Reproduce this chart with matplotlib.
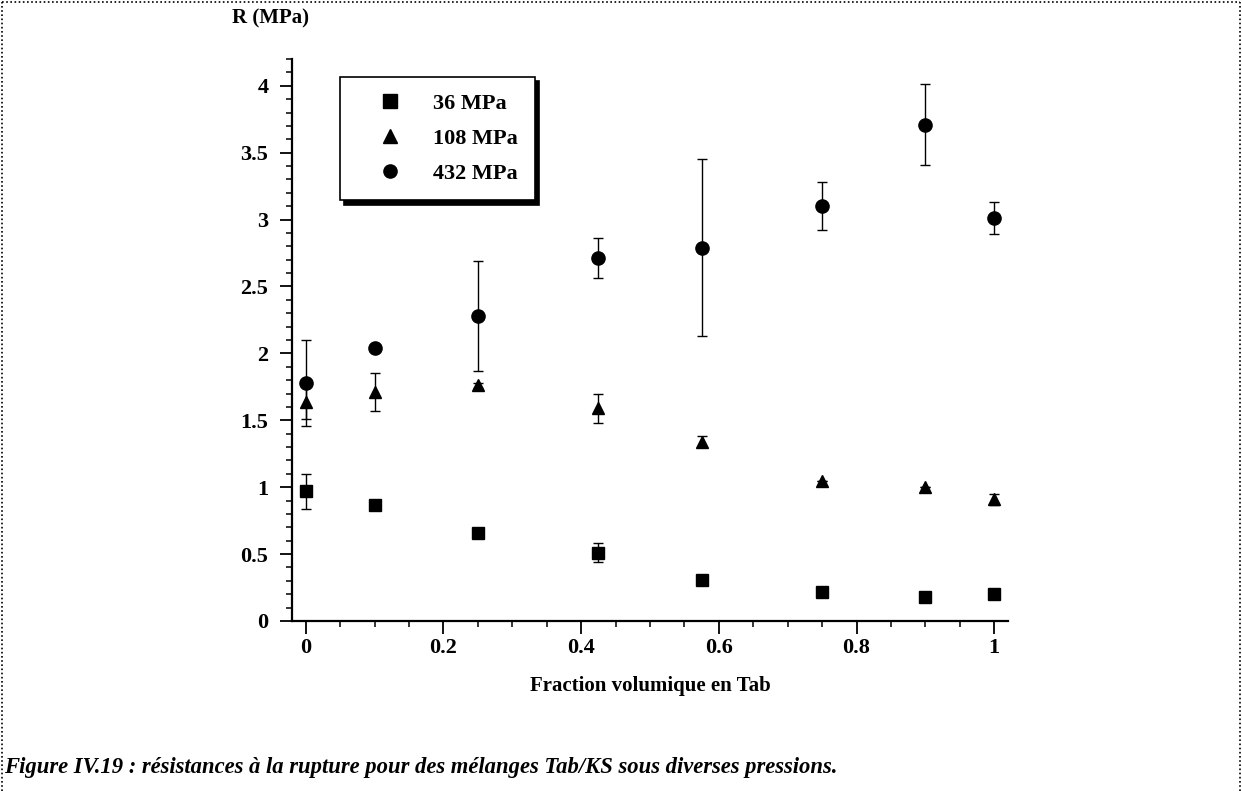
import matplotlib.pyplot as plt
from matplotlib.lines import Line2D
from matplotlib.ticker import MultipleLocator

# data
frac = [0, 0.1, 0.25, 0.425, 0.575, 0.75, 0.9, 1.0]
r36 = [0.97, 0.87, 0.66, 0.51, 0.31, 0.22, 0.18, 0.20]
e36 = [0.13, 0.0, 0.03, 0.07, 0.0, 0.0, 0.0, 0.0]
r108 = [1.64, 1.71, 1.76, 1.59, 1.34, 1.05, 1.00, 0.91]
e108 = [0.13, 0.14, 0.02, 0.11, 0.04, 0.0, 0.0, 0.04]
r432 = [1.78, 2.04, 2.28, 2.71, 2.79, 3.10, 3.71, 3.01]
e432 = [0.32, 0.0, 0.41, 0.15, 0.66, 0.18, 0.30, 0.12]
labels = ["36 MPa", "108 MPa", "432 MPa"]
markers = ['s', '^', 'o']

xticks = [0, 0.2, 0.4, 0.6, 0.8, 1]
xticklabels = ["0", "0.2", "0.4", "0.6", "0.8", "1"]
yticks = [0, 0.5, 1, 1.5, 2, 2.5, 3, 3.5, 4]
yticklabels = ["0", "0.5", "1", "1.5", "2", "2.5", "3", "3.5", "4"]

plt.rcParams['font.family'] = ['Liberation Serif', 'DejaVu Serif']
plt.rcParams['font.weight'] = 'bold'

fig = plt.figure(figsize=(12.42, 7.91), dpi=100)
ax = fig.add_axes([292/1242, 1-621/791, 716/1242, 562/791])

ekw = dict(ls='none', color='black', ecolor='black', elinewidth=1.0,
           capsize=3.6, capthick=1.0)
ax.errorbar(frac, r36, yerr=e36, marker='s', ms=9, **ekw)
ax.errorbar(frac, r108, yerr=e108, marker='^', ms=9, **ekw)
ax.errorbar(frac, r432, yerr=e432, marker='o', ms=9.5, **ekw)

ax.set_xlim(-0.02, 1.02)
ax.set_ylim(0, 4.2)
ax.set_xticks(xticks)
ax.set_xticklabels(xticklabels)
ax.set_yticks(yticks)
ax.set_yticklabels(yticklabels)
ax.xaxis.set_minor_locator(MultipleLocator(0.05))
ax.yaxis.set_minor_locator(MultipleLocator(0.1))
ax.tick_params(which='major', length=9, width=1.3, labelsize=16, direction='out')
ax.tick_params(axis='y', which='major', pad=8)
ax.tick_params(axis='x', which='major', pad=3)
ax.tick_params(which='minor', length=4.5, width=1.1, direction='out')
for s in ['top', 'right']:
    ax.spines[s].set_visible(False)
for s in ['left', 'bottom']:
    ax.spines[s].set_linewidth(1.6)

# legend shows markers only
handles = [Line2D([], [], ls='none', marker=m, color='black', ms=9.5) for m in markers]
leg = ax.legend(handles, labels, loc='upper left', bbox_to_anchor=(0.067, 0.968),
                borderaxespad=0, fontsize=16, frameon=True, fancybox=False,
                edgecolor='black',
                shadow={'ox': 3, 'oy': -3, 'color': 'black', 'alpha': 1},
                handletextpad=0.45, labelspacing=0.64, borderpad=0.75,
                handlelength=3.0)
leg.get_frame().set_linewidth(1.2)
leg.get_frame().set_alpha(1)

fig.text(232/1242, 1-18/791, "R (MPa)", fontsize=15, fontweight='bold',
         ha='left', va='center')
fig.text(650/1242, 1-686/791, "Fraction volumique en Tab", fontsize=15,
         fontweight='bold', ha='center', va='center')
fig.text(4/1242, 1-767/791,
         "Figure IV.19 : résistances à la rupture pour des mélanges Tab/KS sous diverses pressions.",
         fontsize=16.3, fontweight='bold', style='italic', ha='left', va='center')

# dotted frame round the figure
dk = dict(color='black', lw=1.2, ls=(0, (1, 1.5)), transform=fig.transFigure)
fig.add_artist(Line2D([0.002, 0.998], [0.997, 0.997], **dk))
fig.add_artist(Line2D([0.002, 0.002], [0, 0.997], **dk))
fig.add_artist(Line2D([0.998, 0.998], [0, 0.997], **dk))

fig.savefig("out.png", dpi=100)
